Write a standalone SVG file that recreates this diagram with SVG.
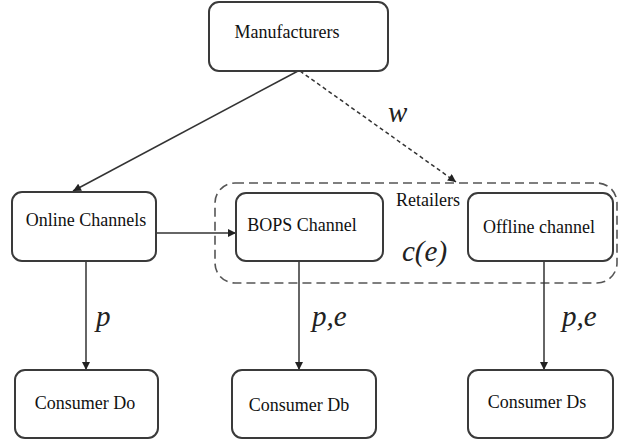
<svg xmlns="http://www.w3.org/2000/svg" width="620" height="444" viewBox="0 0 620 444">
  <defs>
    <marker id="arrow" viewBox="0 0 10 10" refX="10" refY="5" markerWidth="9" markerHeight="8" markerUnits="userSpaceOnUse" orient="auto">
      <path d="M0,0 L10,5 L0,10 z" fill="#222"/>
    </marker>
    <style>
      .box { fill: #fff; stroke: #3a3a3a; stroke-width: 2; }
      .label { font-family: 'Liberation Serif', 'DejaVu Serif', serif; font-size: 18px; fill: #111; text-anchor: middle; }
      .math { font-family: 'Liberation Serif', 'DejaVu Serif', serif; font-style: italic; font-size: 29px; fill: #222; }
      .link { stroke: #333; stroke-width: 1.5; fill: none; marker-end: url(#arrow); }
      .dash { stroke-dasharray: 4 3; }
      .group { fill: none; stroke: #555; stroke-width: 1.6; stroke-dasharray: 9 5; }
    </style>
  </defs>
  <rect width="620" height="444" fill="#fff"/>

  <!-- retailer grouping -->
  <g id="retailers">
    <rect class="group" x="215" y="183" width="402" height="100" rx="20"/>
    <text class="label" x="428" y="206" font-size="17">Retailers</text>
    <text class="math" x="402" y="261">c(e)</text>
  </g>

  <!-- connectors -->
  <g id="connectors">
    <line class="link" x1="298" y1="71" x2="73" y2="191"/>
    <line class="link dash" x1="300" y1="71" x2="456" y2="182"/>
    <line class="link" x1="156" y1="233" x2="236" y2="233"/>
    <line class="link" x1="86" y1="261" x2="86" y2="370"/>
    <line class="link" x1="299" y1="261" x2="299" y2="370"/>
    <line class="link" x1="544" y1="261" x2="544" y2="370"/>
    <text class="math" x="388" y="122">w</text>
    <text class="math" x="96" y="326">p</text>
    <text class="math" x="312" y="326">p,e</text>
    <text class="math" x="562" y="326">p,e</text>
  </g>

  <g id="manufacturers">
    <rect class="box" x="209" y="2" width="179" height="69" rx="10"/>
    <text class="label" x="287" y="38">Manufacturers</text>
  </g>
  <g id="online">
    <rect class="box" x="12" y="192" width="144" height="69" rx="10"/>
    <text class="label" x="86" y="226">Online Channels</text>
  </g>
  <g id="bops">
    <rect class="box" x="236" y="193" width="147" height="68" rx="10"/>
    <text class="label" x="302" y="231">BOPS Channel</text>
  </g>
  <g id="offline">
    <rect class="box" x="468" y="193" width="145" height="68" rx="10"/>
    <text class="label" x="539" y="233">Offline channel</text>
  </g>
  <g id="consumer-do">
    <rect class="box" x="15" y="370" width="143" height="68" rx="10"/>
    <text class="label" x="85" y="409">Consumer Do</text>
  </g>
  <g id="consumer-db">
    <rect class="box" x="232" y="370" width="144" height="68" rx="10"/>
    <text class="label" x="299" y="411">Consumer Db</text>
  </g>
  <g id="consumer-ds">
    <rect class="box" x="468" y="370" width="145" height="68" rx="10"/>
    <text class="label" x="537" y="408">Consumer Ds</text>
  </g>
</svg>
